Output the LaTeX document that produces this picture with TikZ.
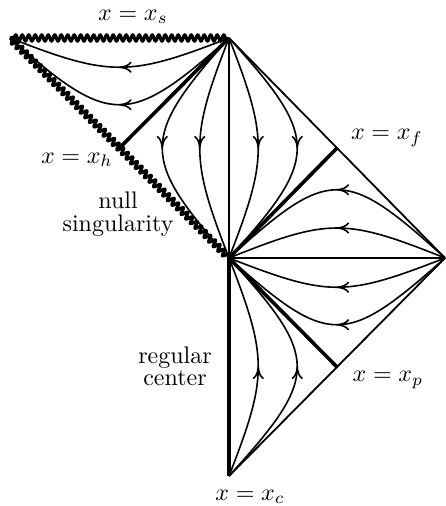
\documentclass[tikz,border=0pt]{standalone}
\usetikzlibrary{calc,decorations.pathmorphing,decorations.markings,arrows.meta}
\begin{document}
\begin{tikzpicture}[x=1pt,y=-1pt,
  thinline/.style={line width=1.8pt},
  thickline/.style={line width=3.6pt},
  sing/.style={line width=3.2pt, line join=round, decorate,
    decoration={snake, segment length=6.5pt, amplitude=3.2pt}},
  flow/.style={line width=1.6pt, postaction={decorate},
    decoration={markings, mark=at position 0.5 with
      {\arrow{Computer Modern Rightarrow[length=12pt,width=11pt]}}}},
  lab/.style={inner sep=0pt}]
\useasboundingbox (0,0) rectangle (446,506);
\coordinate (TL) at (10,38);
\coordinate (S) at (229,38);
\coordinate (O) at (229,258);
\coordinate (R) at (445,258);
\coordinate (C) at (229,476);
\coordinate (H) at ($(TL)!0.5!(O)$);
\coordinate (F) at ($(S)!0.5!(R)$);
\coordinate (P) at ($(R)!0.5!(C)$);
% frame lines
\draw[thinline] (S) -- (O);
\draw[thinline] (S) -- (R);
\draw[thinline] (O) -- (R);
\draw[thinline] (R) -- (C);
\draw[thickline] (O) -- (C);
\draw[thickline] (S) -- (H);
\draw[thickline] (O) -- (F);
\draw[thickline] (O) -- (P);
% flow curves
\draw[flow] (S) .. controls +(-100,39) and +(100,39) .. (TL);
\draw[flow] (S) .. controls +(-100,89) and +(100,89) .. (TL);
\draw[flow] (S) .. controls +(-89,100) and +(-89,-100) .. (O);
\draw[flow] (S) .. controls +(-39,100) and +(-39,-100) .. (O);
\draw[flow] (S) .. controls +(39,100) and +(39,-100) .. (O);
\draw[flow] (S) .. controls +(91,100) and +(91,-100) .. (O);
\draw[flow] (R) .. controls +(-100,-91) and +(100,-91) .. (O);
\draw[flow] (R) .. controls +(-100,-40) and +(100,-40) .. (O);
\draw[flow] (R) .. controls +(-100,39) and +(100,39) .. (O);
\draw[flow] (R) .. controls +(-100,89) and +(100,89) .. (O);
\draw[flow] (C) .. controls +(39,-100) and +(39,100) .. (O);
\draw[flow] (C) .. controls +(91,-100) and +(91,100) .. (O);
% singularities
\draw[sing] (S) -- (TL);
\draw[sing] (TL) -- (O);
% labels
\node[lab] (ls) at (133,17) {\scalebox{2.4}{$x=x_s$}};
\node[lab] (lh) at (77,160) {\scalebox{2.4}{$x=x_h$}};
\node[lab] (lf) at (387,138) {\scalebox{2.4}{$x=x_f$}};
\node[lab] (lp) at (388,380) {\scalebox{2.4}{$x=x_p$}};
\node[lab] (lc) at (250,497) {\scalebox{2.4}{$x=x_c$}};
\node[lab] (ln) at (118,214) {\scalebox{2.4}{\begin{tabular}{@{}c@{}}null\\[-2.4pt]singularity\end{tabular}}};
\node[lab] (lr) at (175,369) {\scalebox{2.4}{\begin{tabular}{@{}c@{}}regular\\[-2.8pt]center\end{tabular}}};
\end{tikzpicture}
\end{document}
